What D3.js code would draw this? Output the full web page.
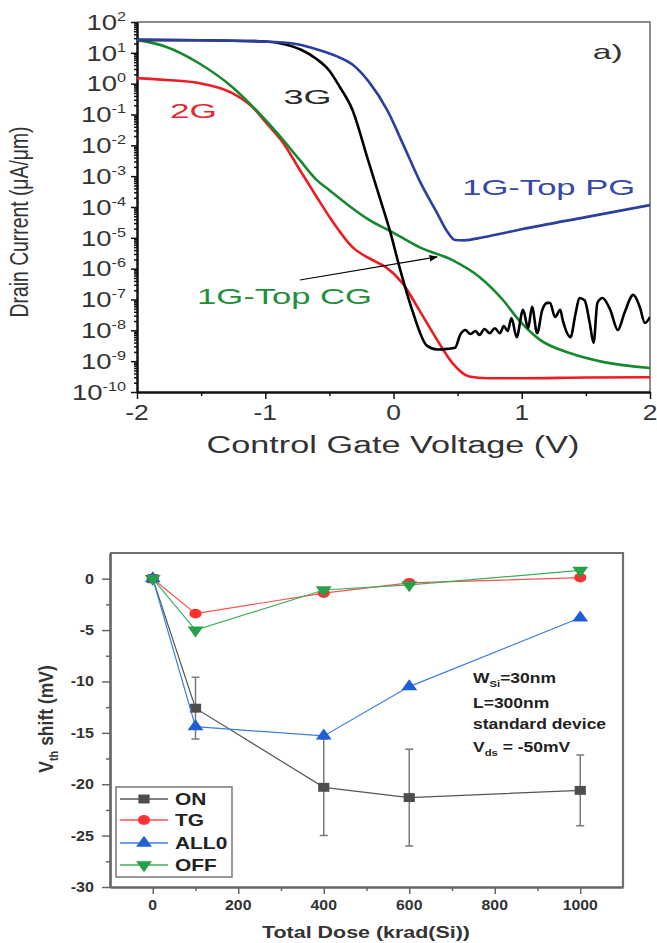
<!DOCTYPE html>
<html>
<head>
<meta charset="utf-8">
<script src="https://d3js.org/d3.v7.min.js"></script>
<style>
  body { margin: 0; background: #fff; }
  svg { display: block; font-family: "Liberation Sans", Arial, sans-serif; }
</style>
</head>
<body>
<svg id="fig" width="657" height="943"></svg>
<script>
// ---------- panel a) : drain current vs control gate voltage ----------
const vgPG = [-2, -1.5, -1, -0.75, -0.58, -0.45, -0.32, -0.19, -0.05, 0.07, 0.2, 0.34, 0.42, 0.48, 0.55, 0.7, 1.0, 1.5, 2.0];
const idPG = [26.3, 25.7, 23.4, 19.1, 12.3, 7.94, 4.17, 1.12, 0.141, 0.012, 7.6e-4, 6.3e-5, 1.58e-5, 8.5e-6, 8.3e-6, 1.05e-5, 1.9e-5, 4.7e-5, 1.15e-4];

const vg3G = [-2, -1.5, -1, -0.85, -0.72, -0.6, -0.5, -0.42, -0.32, -0.2, -0.1, -0.03, 0.05, 0.15, 0.26, 0.34, 0.42, 0.48,
  0.52, 0.56, 0.60, 0.64, 0.67, 0.71, 0.75, 0.79, 0.83, 0.86, 0.89, 0.92, 0.96, 1.01, 1.05, 1.08, 1.12, 1.16, 1.20, 1.22,
  1.26, 1.30, 1.32, 1.38, 1.42, 1.45, 1.49, 1.53, 1.56, 1.59, 1.63, 1.69, 1.75, 1.80, 1.87, 1.92, 1.96, 2.00];
const id3G = [26.3, 25.7, 23.4, 19.1, 12.6, 6.31, 2.63, 0.794, 0.141, 3.5e-3, 1.6e-4, 1.8e-5, 1.0e-6, 4.0e-8, 3.2e-9, 2.4e-9, 2.5e-9, 2.7e-9,
  7.1e-9, 1.02e-8, 7.6e-9, 9.5e-9, 7.1e-9, 1.1e-8, 8.1e-9, 1.17e-8, 8.1e-9, 1.38e-8, 9.5e-9, 2.5e-8, 6.0e-9, 4.6e-8, 1.17e-8, 5.8e-8, 8.1e-9, 4.6e-8, 7.8e-8, 7.8e-8,
  2.7e-8, 4.6e-8, 2.1e-8, 6.0e-9, 3.6e-8, 1.12e-7, 9.5e-8, 1.74e-8, 3.9e-9, 7.8e-8, 1.12e-7, 4.6e-8, 1.02e-8, 3.6e-8, 1.41e-7, 5.8e-8, 1.74e-8, 2.7e-8];

const vg2G = [-2, -1.77, -1.52, -1.26, -1.1, -0.99, -0.86, -0.73, -0.6, -0.5, -0.32, -0.15, -0.06, 0.07, 0.2, 0.34, 0.46, 0.59, 0.73, 1.0, 1.5, 2.0];
const id2G = [1.51, 1.32, 1.05, 0.50, 0.174, 0.0525, 0.012, 1.58e-3, 2.14e-4, 4.8e-5, 5.0e-6, 1.78e-6, 1.12e-6, 3.4e-7, 4.6e-8, 4.9e-9, 8.7e-10, 3.2e-10, 2.8e-10, 2.8e-10, 2.95e-10, 3.0e-10];

const vgCG = [-2, -1.77, -1.52, -1.26, -1.05, -0.86, -0.73, -0.6, -0.5, -0.35, -0.19, 0, 0.2, 0.46, 0.67, 0.85, 0.98, 1.14, 1.38, 1.64, 2.0];
const idCG = [26.3, 15.5, 4.68, 0.794, 0.112, 0.0148, 3.3e-3, 7.6e-4, 3.5e-4, 1.12e-4, 3.8e-5, 1.45e-5, 5.0e-6, 1.9e-6, 5.4e-7, 1.0e-7, 2.1e-8, 5.0e-9, 1.8e-9, 9.3e-10, 6.0e-10];

const vgTicks = [-2, -1, 0, 1, 2];
const vgMinor = [-1.5, -0.5, 0.5, 1.5];
const idDecades = [-10, -9, -8, -7, -6, -5, -4, -3, -2, -1, 0, 1, 2];

// ---------- panel b) : Vth shift vs total dose ----------
const doses = [0, 100, 400, 600, 1000];
const shiftON = [0, -12.6, -20.3, -21.3, -20.6];
const errON = [0, 3.0, 4.7, 4.7, 3.45];
const shiftTG = [0, -3.4, -1.4, -0.4, 0.1];
const shiftALL0 = [0, -14.4, -15.3, -10.5, -3.8];
const shiftOFF = [0, -5.0, -1.1, -0.6, 0.8];
const doseTicks = [0, 200, 400, 600, 800, 1000];
const doseMinor = [100, 300, 500, 700, 900];
const shiftTicks = [0, -5, -10, -15, -20, -25, -30];
const shiftMinor = [-2.5, -7.5, -12.5, -17.5, -22.5, -27.5];

const svg = d3.select("#fig");

// text helper: the reference is stretched sideways, so text gets a horizontal scale
function label(g, str, x, y, o = {}) {
  const sx = o.sx || 1;
  let tr = `translate(${x},${y}) scale(${sx},1)`;
  if (o.rot) tr += ` rotate(${o.rot})`;
  const t = g.append("text")
    .attr("transform", tr)
    .attr("text-anchor", o.anchor || "middle")
    .attr("dy", "0.35em")
    .attr("fill", o.fill || "#222")
    .style("font-size", (o.size || 14) + "px")
    .style("font-weight", o.weight || "normal");
  if (str !== null) t.text(str);
  if (o.len) t.attr("textLength", o.len / sx).attr("lengthAdjust", "spacingAndGlyphs");
  return t;
}

// ================= panel a =================
const A = { l: 137, r: 650, t: 22, b: 392 };
const xA = d3.scaleLinear().domain([-2, 2]).range([A.l, A.r]);
const yA = d3.scaleLog().domain([1e-10, 1e2]).range([A.b, A.t]);
const gA = svg.append("g");

gA.append("path").attr("d", `M${A.l},${A.t}H${A.r}V${A.b}`)
  .attr("fill", "none").attr("stroke", "#8c8c8c").attr("stroke-width", 2);

const yMinorA = [];
idDecades.slice(0, -1).forEach(e => { for (let m = 2; m <= 9; m++) yMinorA.push(m * Math.pow(10, e)); });

function styleAxis(g, col, w) {
  g.select(".domain").attr("stroke", col).attr("stroke-width", w);
  g.selectAll(".tick line").attr("stroke", col).attr("stroke-width", 1.5);
}

gA.append("g").attr("transform", `translate(0,${A.b})`)
  .call(d3.axisBottom(xA).tickValues(vgMinor).tickSize(4).tickSizeOuter(0).tickFormat(""))
  .call(g => styleAxis(g, "#111", 2));
gA.append("g").attr("transform", `translate(0,${A.b})`)
  .call(d3.axisBottom(xA).tickValues(vgTicks).tickSize(7).tickSizeOuter(0).tickFormat(""))
  .call(g => styleAxis(g, "#111", 2));
gA.append("g").attr("transform", `translate(${A.l},0)`)
  .call(d3.axisLeft(yA).tickValues(yMinorA).tickSize(3).tickSizeOuter(0).tickFormat(""))
  .call(g => styleAxis(g, "#111", 2));
gA.append("g").attr("transform", `translate(${A.l},0)`)
  .call(d3.axisLeft(yA).tickValues(idDecades.map(e => Math.pow(10, e))).tickSize(6).tickSizeOuter(0).tickFormat(""))
  .call(g => styleAxis(g, "#111", 2));

vgTicks.forEach(v => label(gA, String(v), xA(v), 412, { size: 22, sx: 1.2, fill: "#333" }));
idDecades.forEach(e => {
  const t = label(gA, null, 126, yA(Math.pow(10, e)), { size: 22, sx: 1.25, anchor: "end", fill: "#333" });
  t.append("tspan").text("10");
  t.append("tspan").attr("dy", -9).style("font-size", "13px").text(String(e));
});

label(gA, "Control Gate Voltage (V)", 393, 445, { size: 23, len: 373, fill: "#333" });
label(gA, "Drain Current (\u03bcA/\u03bcm)", 19, 222, { size: 21, sx: 1.2, rot: -90, len: 229, fill: "#333" });

gA.append("clipPath").attr("id", "clipA").append("rect")
  .attr("x", A.l).attr("y", A.t).attr("width", A.r - A.l).attr("height", A.b - A.t);

const lineA = d3.line().x(d => xA(d[0])).y(d => yA(d[1])).curve(d3.curveMonotoneX);
const curves = [
  { vg: vg2G, id: id2G, color: "#ec1c24" },
  { vg: vgCG, id: idCG, color: "#16882e" },
  { vg: vg3G, id: id3G, color: "#000000" },
  { vg: vgPG, id: idPG, color: "#2b3f9e" }
];
const plotA = gA.append("g").attr("clip-path", "url(#clipA)");
curves.forEach(c => {
  plotA.append("path")
    .datum(d3.zip(c.vg, c.id))
    .attr("d", lineA)
    .attr("fill", "none")
    .attr("stroke", c.color)
    .attr("stroke-width", 2.6)
    .attr("stroke-linejoin", "round");
});

// annotation arrow 1G-Top CG
svg.append("defs").append("marker")
  .attr("id", "arrow").attr("viewBox", "0 0 10 10").attr("refX", 9).attr("refY", 5)
  .attr("markerWidth", 7).attr("markerHeight", 7).attr("orient", "auto")
  .append("path").attr("d", "M0,1L10,5L0,9z").attr("fill", "#000");
const arrowFrom = [-0.73, 4.3e-7], arrowTo = [0.34, 2.4e-6];
gA.append("line")
  .attr("x1", xA(arrowFrom[0])).attr("y1", yA(arrowFrom[1]))
  .attr("x2", xA(arrowTo[0])).attr("y2", yA(arrowTo[1]))
  .attr("stroke", "#000").attr("stroke-width", 1.2).attr("marker-end", "url(#arrow)");

label(gA, "2G", xA(-1.56), yA(0.129), { size: 21, len: 47, fill: "#e8262b" });
label(gA, "3G", xA(-0.67), yA(0.37), { size: 21, len: 48, fill: "#2a2a2a" });
label(gA, "a)", xA(1.67), yA(10.7), { size: 21, len: 30, fill: "#333" });
label(gA, "1G-Top PG", xA(1.21), yA(4.2e-4), { size: 22, len: 173, fill: "#3848a8" });
label(gA, "1G-Top CG", xA(-0.85), yA(1.3e-7), { size: 22, len: 175, fill: "#1f8f3a" });

// ================= panel b =================
const B = { l: 110, r: 623, t: 553, b: 887 };
const xB = d3.scaleLinear().domain([-100, 1100]).range([B.l, B.r]);
const yB = d3.scaleLinear().domain([-30, 2.5]).range([B.b, B.t]);
const gB = svg.append("g");

gB.append("path").attr("d", `M${B.l},${B.t}H${B.r}V${B.b}`)
  .attr("fill", "none").attr("stroke", "#707070").attr("stroke-width", 2.2);

gB.append("g").attr("transform", `translate(0,${B.b})`)
  .call(d3.axisBottom(xB).tickValues(doseMinor).tickSize(4).tickSizeOuter(0).tickFormat(""))
  .call(g => styleAxis(g, "#666", 2.2));
gB.append("g").attr("transform", `translate(0,${B.b})`)
  .call(d3.axisBottom(xB).tickValues(doseTicks).tickSize(7).tickSizeOuter(0).tickFormat(""))
  .call(g => styleAxis(g, "#666", 2.2));
gB.append("g").attr("transform", `translate(${B.l},0)`)
  .call(d3.axisLeft(yB).tickValues(shiftMinor).tickSize(4).tickSizeOuter(0).tickFormat(""))
  .call(g => styleAxis(g, "#666", 2.2));
gB.append("g").attr("transform", `translate(${B.l},0)`)
  .call(d3.axisLeft(yB).tickValues(shiftTicks).tickSize(8).tickSizeOuter(0).tickFormat(""))
  .call(g => styleAxis(g, "#666", 2.2));

doseTicks.forEach(v => label(gB, String(v), xB(v), 905, { size: 14, sx: 1.13, weight: "bold", fill: "#333" }));
shiftTicks.forEach(v => label(gB, String(v), 94, yB(v), { size: 14, sx: 1.15, weight: "bold", anchor: "end", fill: "#333" }));

label(gB, "Total Dose (krad(Si))", 366, 932, { size: 17, len: 208, weight: "bold", fill: "#333" });
{
  const t = label(gB, null, 46, 719, { size: 17.5, sx: 1.2, rot: -90, weight: "bold", fill: "#333" });
  t.append("tspan").text("V");
  t.append("tspan").attr("dy", 4).style("font-size", "11px").text("th");
  t.append("tspan").attr("dy", -4).text(" shift (mV)");
}

const seriesB = [
  { name: "ON", y: shiftON, line: "#555555", fill: "#4d4d4d", sym: d3.symbolSquare, size: 80, rot: 0 },
  { name: "TG", y: shiftTG, line: "#ff5050", fill: "#ff3030", sym: d3.symbolCircle, size: 75, rot: 0 },
  { name: "ALL0", y: shiftALL0, line: "#3b7fe0", fill: "#1d5fd8", sym: d3.symbolTriangle, size: 70, rot: 0 },
  { name: "OFF", y: shiftOFF, line: "#3cae5c", fill: "#27a04a", sym: d3.symbolTriangle, size: 70, rot: 180 }
];

const lineB = d3.line().x(d => xB(d[0])).y(d => yB(d[1]));

function marker(g, s, x, y) {
  g.append("path")
    .attr("d", d3.symbol().type(s.sym).size(s.size)())
    .attr("transform", `translate(${x},${y}) scale(1.25,1) rotate(${s.rot})`)
    .attr("fill", s.fill);
}

seriesB.forEach((s, i) => {
  const pts = d3.zip(doses, s.y);
  gB.append("path").datum(pts).attr("d", lineB)
    .attr("fill", "none").attr("stroke", s.line).attr("stroke-width", 1.2);
  if (s.name === "ON") {
    doses.forEach((d, j) => {
      if (!errON[j]) return;
      const x = xB(d), y1 = yB(shiftON[j] + errON[j]), y2 = yB(shiftON[j] - errON[j]);
      gB.append("path")
        .attr("d", `M${x},${y1}V${y2}M${x - 4},${y1}H${x + 4}M${x - 4},${y2}H${x + 4}`)
        .attr("fill", "none").attr("stroke", "#7a7a7a").attr("stroke-width", 1.5);
    });
  }
  pts.forEach(p => marker(gB, s, xB(p[0]), yB(p[1])));
});

// legend
const leg = gB.append("g");
leg.append("rect").attr("x", 116).attr("y", 787).attr("width", 116).attr("height", 90)
  .attr("fill", "#fff").attr("stroke", "#777").attr("stroke-width", 1.5);
const legY = [799, 820, 843, 865];
seriesB.forEach((s, i) => {
  leg.append("line").attr("x1", 120).attr("x2", 168).attr("y1", legY[i]).attr("y2", legY[i])
    .attr("stroke", s.line).attr("stroke-width", 1.4);
  marker(leg, s, 144, legY[i]);
  label(leg, s.name, 175, legY[i], { size: 17, sx: 1.23, weight: "bold", anchor: "start", fill: "#222" });
});

// device annotation
{
  const o = { size: 14, sx: 1.25, weight: "bold", anchor: "start", fill: "#222" };
  let t = label(gB, null, 473, 678, o);
  t.append("tspan").text("W");
  t.append("tspan").attr("dy", 4).style("font-size", "9px").text("Si");
  t.append("tspan").attr("dy", -4).text("=30nm");
  label(gB, "L=300nm", 473, 703, o);
  label(gB, "standard device", 473, 724, o);
  t = label(gB, null, 473, 747, o);
  t.append("tspan").text("V");
  t.append("tspan").attr("dy", 4).style("font-size", "9px").text("ds");
  t.append("tspan").attr("dy", -4).text(" = -50mV");
}
</script>
</body>
</html>
